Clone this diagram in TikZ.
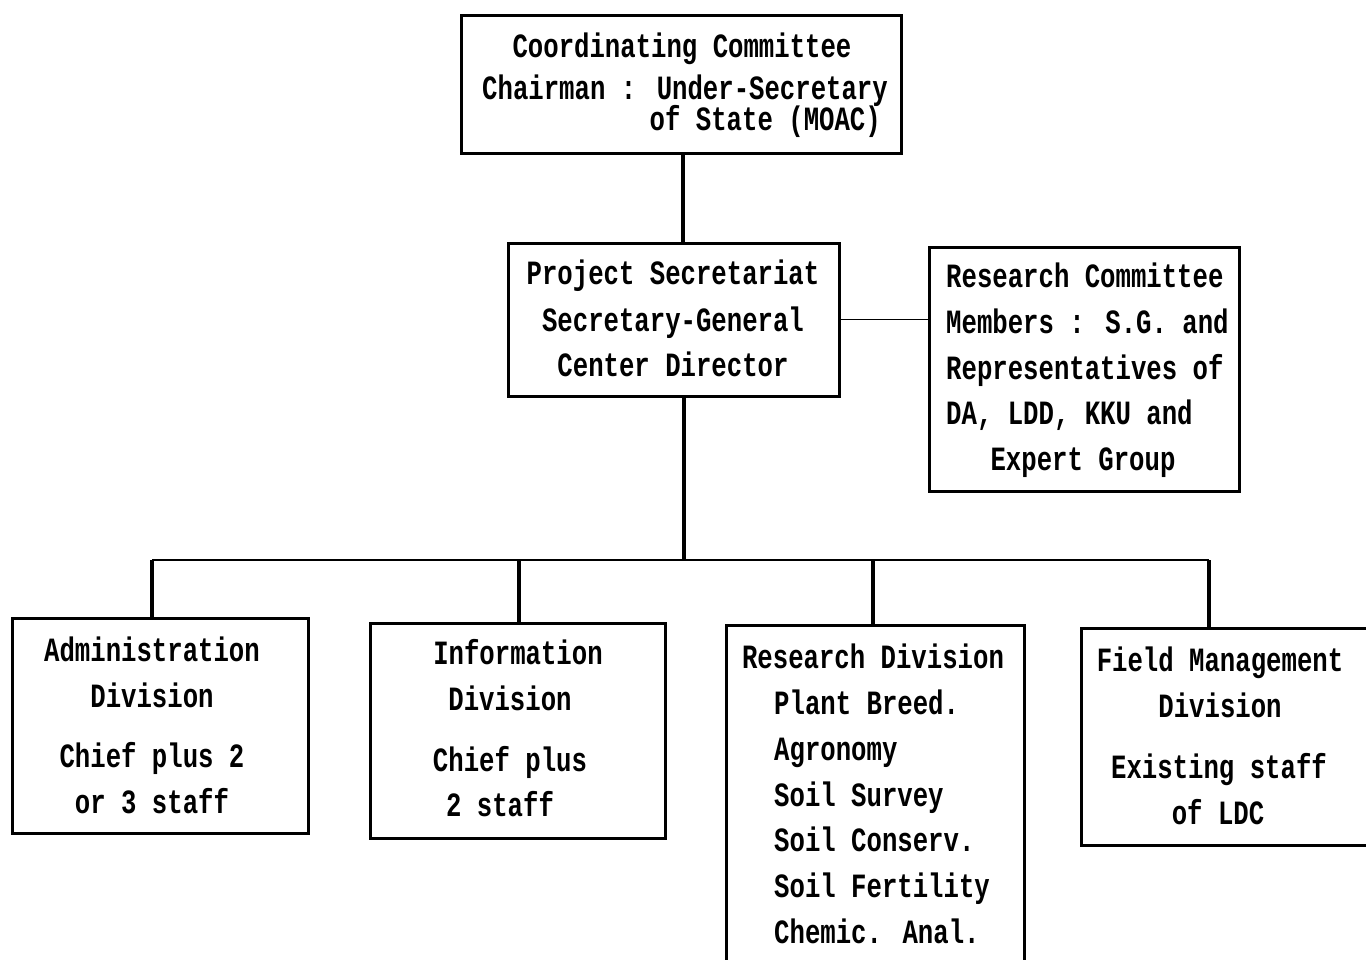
\documentclass[tikz,border=0pt]{standalone}
\usepackage{fontspec}
\setmainfont{Liberation Mono}[FakeStretch=0.755]
\begin{document}
\begin{tikzpicture}[x=1pt,y=-1pt,
  box/.style={draw=black,line width=3pt,rectangle,inner sep=0pt},
  txt/.style={inner sep=0pt,font=\fontsize{34}{40}\selectfont\bfseries},
  conn/.style={line width=3.2pt},
  bus/.style={line width=2.6pt},
  link/.style={line width=1.4pt}]
\useasboundingbox (0,0) rectangle (1366,959);
\clip (0,0) rectangle (1366,959);
% boxes
\node[box,minimum width=440pt,minimum height=138pt] (cc) at (681,84) {};
\node[box,minimum width=331pt,minimum height=153pt] (ps) at (673.5,319.5) {};
\node[box,minimum width=310pt,minimum height=244pt] (rc) at (1084,369) {};
\node[box,minimum width=296pt,minimum height=215pt] (ad) at (160,725.5) {};
\node[box,minimum width=295pt,minimum height=215pt] (in) at (517.5,730.5) {};
\node[box,minimum width=298pt,minimum height=355pt] (rd) at (875,802.5) {};
\node[box,minimum width=300pt,minimum height=217pt] (fm) at (1231,736.5) {};
% texts
\node[txt,anchor=base] (cc1) at (682,57) {Coordinating Committee};
\node[txt,anchor=base west] (cc2) at (482,99) {Chairman : Under-Secretary};
\node[txt,anchor=base east] (cc3) at (881,130) {of State (MOAC)};
\node[txt,anchor=base] (ps1) at (673,284) {Project Secretariat};
\node[txt,anchor=base] (ps2) at (673,331) {Secretary-General};
\node[txt,anchor=base] (ps3) at (673,376) {Center Director};
\node[txt,anchor=base west] (rc1) at (946,287) {Research Committee};
\node[txt,anchor=base west] (rc2) at (946,333) {Members : S.G. and};
\node[txt,anchor=base west] (rc3) at (946,379) {Representatives of};
\node[txt,anchor=base west] (rc4) at (946,424) {DA, LDD, KKU and};
\node[txt,anchor=base] (rc5) at (1083,470) {Expert Group};
\node[txt,anchor=base] (ad1) at (152,661) {Administration};
\node[txt,anchor=base] (ad2) at (152,707) {Division};
\node[txt,anchor=base] (ad3) at (152,767) {Chief plus 2};
\node[txt,anchor=base] (ad4) at (152,813) {or 3 staff};
\node[txt,anchor=base] (in1) at (518,664) {Information};
\node[txt,anchor=base] (in2) at (510,710) {Division};
\node[txt,anchor=base] (in3) at (510,771) {Chief plus};
\node[txt,anchor=base] (in4) at (500,816) {2 staff};
\node[txt,anchor=base] (rd1) at (873,668) {Research Division};
\node[txt,anchor=base west] (rd2) at (774,714) {Plant Breed.};
\node[txt,anchor=base west] (rd3) at (774,760) {Agronomy};
\node[txt,anchor=base west] (rd4) at (774,806) {Soil Survey};
\node[txt,anchor=base west] (rd5) at (774,851) {Soil Conserv.};
\node[txt,anchor=base west] (rd6) at (774,897) {Soil Fertility};
\node[txt,anchor=base west] (rd7) at (774,943) {Chemic. Anal.};
\node[txt,anchor=base] (fm1) at (1220,671) {Field Management};
\node[txt,anchor=base] (fm2) at (1220,717) {Division};
\node[txt,anchor=base] (fm3) at (1219,778) {Existing staff};
\node[txt,anchor=base] (fm4) at (1218,824) {of LDC};
% connectors
\coordinate (v1) at (683,0);
\coordinate (jb) at (684,560);
\coordinate (b1) at (152,560);
\coordinate (b2) at (519,560);
\coordinate (b3) at (873,560);
\coordinate (b4) at (1209,560);
\draw[conn] (cc.south -| v1) -- (ps.north -| v1);
\draw[link] (ps.east) -- (ps.east -| rc.west);
\draw[conn] (ps.south -| jb) -- (jb);
\draw[bus] (b1) -- (b4);
\draw[conn] (b1) -- (b1 |- ad.north);
\draw[conn] (b2) -- (b2 |- in.north);
\draw[conn] (b3) -- (b3 |- rd.north);
\draw[conn] (b4) -- (b4 |- fm.north);
\end{tikzpicture}
\end{document}
